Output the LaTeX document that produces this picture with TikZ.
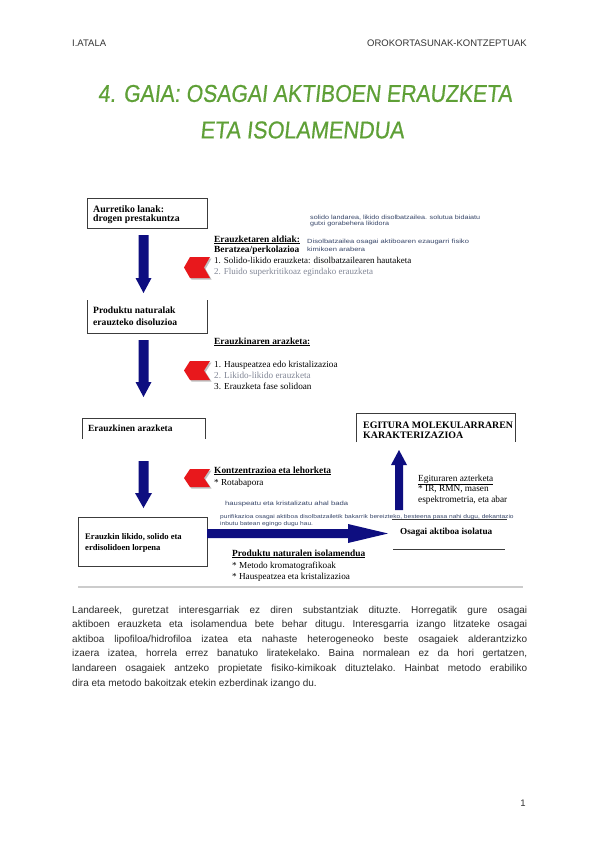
\documentclass[tikz,border=0pt]{standalone}
\usepackage{fontspec}
\usepackage{graphicx}
\setmainfont{Liberation Serif}
\newfontfamily\arialfont{Liberation Sans}
\newfontfamily\titlefont{Liberation Sans}[FakeSlant=0.12,FakeBold=0.6]
\definecolor{navyA}{RGB}{14,14,128}
\definecolor{chevred}{RGB}{232,24,28}
\definecolor{titlegreen}{RGB}{95,160,55}
\definecolor{notecol}{RGB}{55,70,105}
\definecolor{boxcol}{RGB}{60,60,60}
\definecolor{paracol}{RGB}{45,45,45}
\definecolor{itemgray}{RGB}{130,135,150}
\newcommand\hstretch[2]{\scalebox{#1}[1]{#2}}
\begin{document}
\begin{tikzpicture}[x=1pt,y=-1pt,
  tx/.style={anchor=base west, inner sep=0pt, font=\fontsize{9.2}{10}\selectfont},
  txb/.style={anchor=base west, inner sep=0pt, font=\bfseries\fontsize{9.4}{10}\selectfont},
  note/.style={anchor=base west, inner sep=0pt, font=\arialfont\fontsize{6}{6}\selectfont, text=notecol},
  para/.style={anchor=base west, inner sep=0pt, font=\arialfont\frenchspacing\fontsize{10}{12}\selectfont, text=paracol},
  hdr/.style={inner sep=0pt, font=\arialfont\fontsize{9.5}{11}\selectfont, text=black!80},
  boxline/.style={draw=boxcol, line width=0.9pt},
  navyarr/.style={fill=navyA},
  chevshape/.style={fill=chevred},
  chevshadow/.style={fill=black!25}
]
\useasboundingbox (0,0) rectangle (600,848);
\fill[white] (0,0) rectangle (600,848);

% header
\node[hdr, anchor=base west] (hleft) at (72,46.5) {I.ATALA};
\node[hdr, anchor=base east] (hright) at (527,46.5) {OROKORTASUNAK-KONTZEPTUAK};

% title
\node[inner sep=0pt, text=titlegreen] (title1) at (305,93.5)
  {\resizebox{414pt}{17pt}{\titlefont 4. GAIA: OSAGAI AKTIBOEN ERAUZKETA}};
\node[inner sep=0pt, text=titlegreen] (title2) at (302,130)
  {\resizebox{204pt}{17pt}{\titlefont ETA ISOLAMENDUA}};

% boxes
\draw[boxline] (87,198) rectangle (207,228);
\node[txb, font=\bfseries\fontsize{9.8}{10}\selectfont] (b1a) at (93,212) {Aurretiko lanak:};
\node[txb, font=\bfseries\fontsize{9.8}{10}\selectfont] (b1b) at (93,221.5) {drogen prestakuntza};

\draw[boxline] (87,300) -- (87,333) -- (207,333) -- (207,300);
\node[txb, font=\bfseries\fontsize{9.6}{10}\selectfont] (b2a) at (93,313) {Produktu naturalak};
\node[txb, font=\bfseries\fontsize{9.6}{10}\selectfont] (b2b) at (93,325) {erauzteko disoluzioa};

\draw[boxline] (82,439) -- (82,418) -- (205,418) -- (205,439);
\node[txb] (b3a) at (88,431) {Erauzkinen arazketa};

\draw[boxline] (78,517) rectangle (207,566);
\node[txb, font=\bfseries\fontsize{8.6}{10}\selectfont] (b4a) at (85,539) {Erauzkin likido, solido eta};
\node[txb, font=\bfseries\fontsize{8.6}{10}\selectfont] (b4b) at (85,550) {erdisolidoen lorpena};

\draw[boxline] (356,442) -- (356,413) -- (515,413) -- (515,442);
\node[txb, font=\bfseries\fontsize{9.9}{10}\selectfont] (b5a) at (363,428.5) {EGITURA MOLEKULARRAREN};
\node[txb, font=\bfseries\fontsize{9.9}{10}\selectfont] (b5b) at (363,438) {KARAKTERIZAZIOA};

\draw[boxline] (392,519) -- (507,519);
\draw[boxline] (393,549) -- (505,549);
\node[txb, font=\bfseries\fontsize{9.2}{10}\selectfont] (iso) at (400,534) {Osagai aktiboa isolatua};

% navy block arrows
\fill[navyarr] (138.5,235) -- (148.5,235) -- (148.5,278) -- (151.5,278) -- (143.5,293)
  -- (135.5,278) -- (138.5,278) -- cycle;
\fill[navyarr] (138.5,340) -- (148.5,340) -- (148.5,382) -- (151.5,382) -- (143.5,397)
  -- (135.5,382) -- (138.5,382) -- cycle;
\fill[navyarr] (138.5,461) -- (148.5,461) -- (148.5,493) -- (152,493) -- (143.5,508)
  -- (135,493) -- (138.5,493) -- cycle;
\fill[navyarr] (395,510) -- (403,510) -- (403,465) -- (407,465) -- (399,450)
  -- (391,465) -- (395,465) -- cycle;
\fill[navyarr] (207,529) -- (348,529) -- (348,524) -- (388,533.5) -- (348,543)
  -- (348,538) -- (207,538) -- cycle;

% red chevrons
\foreach \cy/\hh in {267.5/10.5, 370.5/9.5, 478/9}{
  \fill[chevshadow] (185.5,\cy+1.5) -- (191.5,\cy-\hh+1.5) -- (211.5,\cy-\hh+1.5) -- (205.5,\cy+1.5)
    -- (211.5,\cy+\hh+1.5) -- (191.5,\cy+\hh+1.5) -- cycle;
  \fill[chevshape] (184,\cy) -- (190,\cy-\hh) -- (210,\cy-\hh) -- (204,\cy)
    -- (210,\cy+\hh) -- (190,\cy+\hh) -- cycle;
}

% block 1 texts
\node[note] (n1a) at (310,219.5) {\hstretch{1.2}{solido landarea, likido disolbatzailea. solutua bidaiatu}};
\node[note] (n1b) at (310,225.5) {\hstretch{1.2}{gutxi gorabehera likidora}};
\node[note] (n2a) at (307,243) {\hstretch{1.26}{Disolbatzailea osagai aktiboaren ezaugarri fisiko}};
\node[note] (n2b) at (307,251) {\hstretch{1.26}{kimikoen arabera}};
\node[txb] (e1) at (214,242) {\underline{Erauzketaren aldiak:}};
\node[txb] (e2) at (214,252) {Beratzea/perkolazioa};
\node[tx, font=\fontsize{9}{10}\selectfont] (e3) at (214,263.5) {1. Solido-likido erauzketa: disolbatzailearen hautaketa};
\node[tx, font=\fontsize{9}{10}\selectfont, text=itemgray] (e4) at (214,274.5) {2. Fluido superkritikoaz egindako erauzketa};

% block 2 texts
\node[txb] (a1) at (214,344) {\underline{Erauzkinaren arazketa:}};
\node[tx] (a2) at (214,367) {1. Hauspeatzea edo kristalizazioa};
\node[tx, text=itemgray] (a3) at (214,378) {2. Likido-likido erauzketa};
\node[tx] (a4) at (214,389) {3. Erauzketa fase solidoan};

% block 3 texts
\node[txb] (k1) at (214,473) {\underline{Kontzentrazioa eta lehorketa}};
\node[tx] (k2) at (214,485) {* Rotabapora};
\node[note] (n3) at (225,505.5) {\hstretch{1.28}{hauspeatu eta kristalizatu ahal bada}};
\node[note, font=\arialfont\fontsize{5.5}{6}\selectfont] (n4a) at (220,518.5)
  {\hstretch{1.2}{purifikazioa osagai aktiboa disolbatzailetik bakarrik bereizteko, besteena pasa nahi dugu, dekantazio}};
\node[note, font=\arialfont\fontsize{5.5}{6}\selectfont] (n4b) at (220,525.5)
  {\hstretch{1.2}{inbutu batean egingo dugu hau.}};

% block 4 texts
\node[txb] (p1) at (232,556) {\underline{Produktu naturalen isolamendua}};
\node[tx] (p2) at (232,568) {* Metodo kromatografikoak};
\node[tx] (p3) at (232,579) {* Hauspeatzea eta kristalizazioa};

% structure analysis texts
\node[tx, font=\fontsize{9.3}{10}\selectfont] (g1) at (418,481) {\underline{Egituraren azterketa}};
\node[tx, font=\fontsize{9.3}{10}\selectfont] (g2) at (418,491.5) {* IR, RMN, masen};
\node[tx, font=\fontsize{9.3}{10}\selectfont] (g3) at (418,502) {espektrometria, eta abar};

% separator
\draw[black!20, line width=2pt] (78,587) -- (523,587);

% paragraph
\node[para] (l1) at (72,613) {\makebox[455pt][s]{Landareek, guretzat interesgarriak ez diren substantziak dituzte. Horregatik gure osagai}};
\node[para] (l2) at (72,627.6) {\makebox[455pt][s]{aktiboen erauzketa eta isolamendua bete behar ditugu. Interesgarria izango litzateke osagai}};
\node[para] (l3) at (72,642.2) {\makebox[455pt][s]{aktiboa lipofiloa/hidrofiloa izatea eta nahaste heterogeneoko beste osagaiek alderantzizko}};
\node[para] (l4) at (72,656.8) {\makebox[455pt][s]{izaera izatea, horrela errez banatuko liratekelako. Baina normalean ez da hori gertatzen,}};
\node[para] (l5) at (72,671.4) {\makebox[455pt][s]{landareen osagaiek antzeko propietate fisiko-kimikoak dituztelako. Hainbat metodo erabiliko}};
\node[para] (l6) at (72,686) {dira eta metodo bakoitzak etekin ezberdinak izango du.};

% page number
\node[hdr, anchor=base] (pnum) at (523,806) {1};
\end{tikzpicture}
\end{document}
